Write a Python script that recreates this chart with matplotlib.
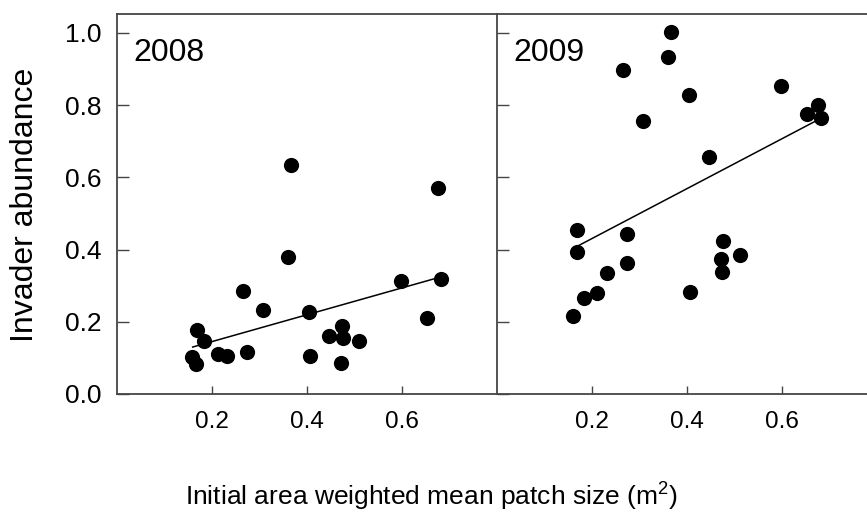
import matplotlib
matplotlib.use("Agg")
import matplotlib.pyplot as plt
import numpy as np

# patch size (m^2) and invader abundance
x_2008 = [0.170, 0.183, 0.158, 0.167, 0.214, 0.233, 0.265, 0.275, 0.307, 0.366, 0.361,
          0.405, 0.407, 0.446, 0.474, 0.477, 0.472, 0.511, 0.598, 0.653, 0.677, 0.683]
y_2008 = [0.176, 0.147, 0.102, 0.082, 0.112, 0.104, 0.284, 0.117, 0.233, 0.635, 0.379,
          0.228, 0.106, 0.160, 0.187, 0.155, 0.087, 0.147, 0.312, 0.209, 0.569, 0.317]

x_2009 = [0.366, 0.361, 0.265, 0.405, 0.598, 0.307, 0.677, 0.653, 0.683, 0.446, 0.168, 0.170,
          0.275, 0.476, 0.472, 0.512, 0.474, 0.275, 0.232, 0.212, 0.183, 0.407, 0.160]
y_2009 = [1.001, 0.933, 0.898, 0.829, 0.854, 0.756, 0.800, 0.775, 0.765, 0.656, 0.453, 0.394,
          0.442, 0.423, 0.373, 0.384, 0.339, 0.362, 0.334, 0.279, 0.265, 0.281, 0.217]

# fitted lines (start, end) as drawn
fit_x = {"2008": [0.160, 0.674], "2009": [0.174, 0.672]}
fit_y = {"2008": [0.130, 0.321], "2009": [0.412, 0.756]}

xticks = [0.2, 0.4, 0.6]
yticks = [0.0, 0.2, 0.4, 0.6, 0.8, 1.0]

plt.rcParams["font.family"] = ["Liberation Sans", "DejaVu Sans"]
plt.rcParams["mathtext.fontset"] = "custom"
plt.rcParams["mathtext.rm"] = "Liberation Sans"
spine_col = "#454545"

fig = plt.figure(figsize=(8.67, 5.13), dpi=100)
ax1 = fig.add_axes([0.1346, 0.232, 0.4383, 0.7407])
ax2 = fig.add_axes([0.5729, 0.232, 0.4383, 0.7407])

panels = [(ax1, "2008", x_2008, y_2008), (ax2, "2009", x_2009, y_2009)]
for ax, year, xs, ys in panels:
    ax.scatter(xs, ys, s=120, color="black", zorder=3, linewidths=0)
    ax.plot(fit_x[year], fit_y[year], color="black", lw=1.1, zorder=2)
    ax.set_xlim(0, 0.8)
    ax.set_ylim(0, 1.052)
    ax.set_xticks(xticks)
    ax.set_yticks(yticks)
    ax.tick_params(axis="x", direction="in", length=6, width=1, color=spine_col, pad=12,
                   labelsize=17.5)
    ax.tick_params(axis="y", direction="in", length=8.5, width=1, color=spine_col, pad=11,
                   labelsize=19)
    for sp in ax.spines.values():
        sp.set_color(spine_col)
        sp.set_linewidth(1.3)
    ax.spines["right"].set_visible(False)
    ax.text(0.035, 0.922, year, fontsize=23, va="baseline", ha="left")

ax2.tick_params(axis="y", labelleft=False)

fig.text(0.029, 0.600, "Invader abundance", rotation=90, fontsize=23,
         ha="center", va="center")
fig.text(0.497, 0.0156, r"Initial area weighted mean patch size (m$^{\mathregular{2}}$)",
         fontsize=19, ha="center", va="baseline")

fig.savefig("out.png", dpi=100)
